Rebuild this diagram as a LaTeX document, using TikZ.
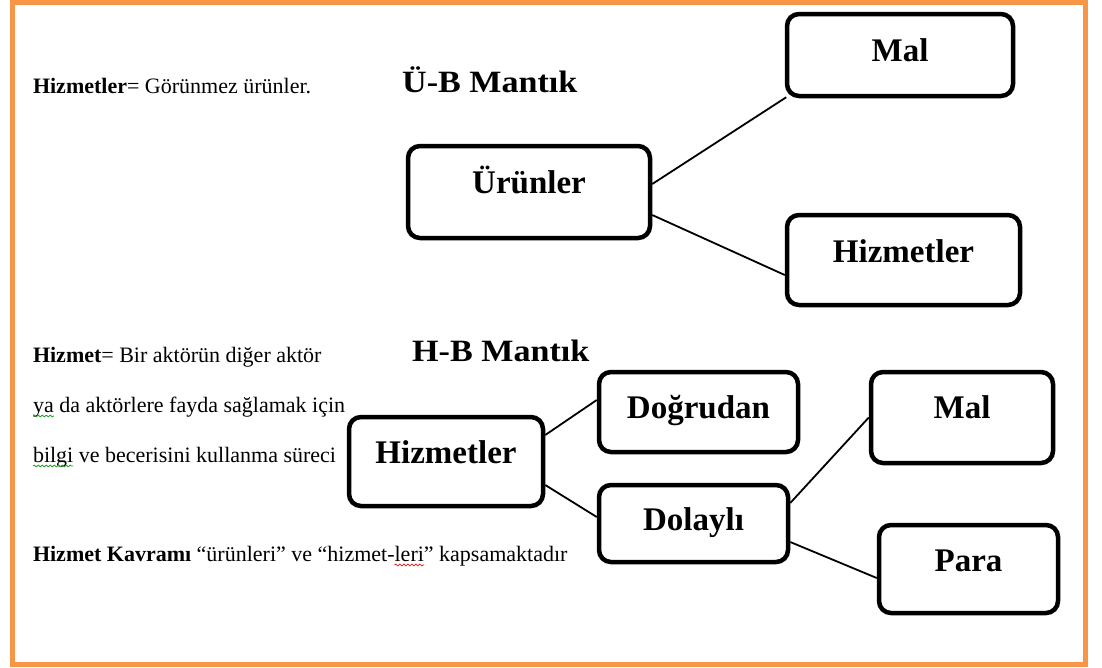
\documentclass[tikz,border=0pt]{standalone}
\usepackage{fontspec}
\setmainfont{Liberation Serif}
\newfontfamily\titleface{Liberation Serif}[FakeStretch=1.1]
\usetikzlibrary{calc,decorations.pathmorphing}

\definecolor{frameorange}{RGB}{247,150,70}
\definecolor{grammargreen}{RGB}{40,160,40}
\definecolor{spellred}{RGB}{230,30,30}

\newcommand\notefont{\fontsize{22}{26}\selectfont}
\newcommand\boxlabelfont{\bfseries\fontsize{33}{36}\selectfont}
\newcommand\titlefont{\titleface\bfseries\fontsize{31}{34}\selectfont}

\begin{document}
\begin{tikzpicture}[x=1pt,y=-1pt,
  box/.style n args={3}{draw=black, fill=white, line width=4.5pt,
    rounded corners=12pt, inner sep=0pt, font=\boxlabelfont,
    text height=24pt, text depth=#3pt,
    minimum width=#1pt, minimum height=#2pt},
  link/.style={draw=black, line width=1.8pt},
  note/.style={anchor=base west, inner sep=0pt, outer sep=0pt, font=\notefont},
  heading/.style={anchor=base west, inner sep=0pt, font=\titlefont},
  squiggle/.style={draw=#1, line width=0.8pt, decorate,
    decoration={snake, segment length=4pt, amplitude=0.9pt}},
  frame/.style={draw=frameorange, line width=5.5pt}]

\useasboundingbox (0,0) rectangle (1102,667);
\draw[frame] (12.5,2.5) rectangle (1085.5,664.5);

% side notes
\node[note] (n1) at (33,93) {\textbf{Hizmetler}= Görünmez ürünler.};
\node[note] (n2) at (33,362) {\textbf{Hizmet}= Bir aktörün diğer aktör};
\node[note] (n3a) at (33,412) {ya};
\node[note] (n3b) at (n3a.base east) {\ da aktörlere fayda sağlamak için};
\node[note] (n4a) at (33,462) {bilgi};
\node[note] (n4b) at (n4a.base east) {\ ve becerisini kullanma süreci};
\node[note] (n5a) at (33,561) {\textbf{Hizmet Kavramı} “ürünleri” ve “hizmet-};
\node[note] (n5b) at (n5a.base east) {leri};
\node[note] (n5c) at (n5b.base east) {” kapsamaktadır};

\draw[squiggle=grammargreen] ($(n3a.base west)+(0,4)$) -- ($(n3a.base east)+(0,4)$);
\draw[squiggle=grammargreen] ($(n4a.base west)+(0,4)$) -- ($(n4a.base east)+(0,4)$);
\draw[squiggle=spellred] ($(n5b.base west)+(0,4)$) -- ($(n5b.base east)+(0,4)$);

% headings
\node[heading] (t1) at (402,92) {Ü-B Mantık};
\node[heading] (t2) at (412,361) {H-B Mantık};

% Ü-B tree
\node[box={226}{82}{12}] (malA) at (900,55) {Mal};
\node[box={242}{92}{22}] (urunler) at (529,192) {Ürünler};
\node[box={233}{90}{20}] (hizA) at (903.5,260) {Hizmetler};

% H-B tree
\node[box={194}{89}{21}] (hizB) at (446,461.5) {Hizmetler};
\node[box={199}{80}{12}] (dogrudan) at (698.5,412) {Doğrudan};
\node[box={189}{77}{10}] (dolayli) at (693.5,523.5) {Dolaylı};
\node[box={182}{91}{23}] (malB) at (962,417.5) {Mal};
\node[box={179}{88}{20}] (para) at (968.5,569) {Para};

% connectors
\draw[link] ($(urunler.east)+(0,-8)$) -- ($(malA.south west)+(1.5,-1)$);
\draw[link] ($(urunler.east)+(0,23)$) -- ($(hizA.west)+(0,15)$);
\draw[link] ($(hizB.east)+(0,-26.5)$) -- ($(dogrudan.west)+(0,-12)$);
\draw[link] ($(hizB.east)+(0,23.5)$) -- ($(dolayli.west)+(0,-6.5)$);
\draw[link] ($(dolayli.east)+(0,-20.5)$) -- (malB.west);
\draw[link] ($(dolayli.east)+(0,18.5)$) -- ($(para.west)+(0,9)$);
\end{tikzpicture}
\end{document}
